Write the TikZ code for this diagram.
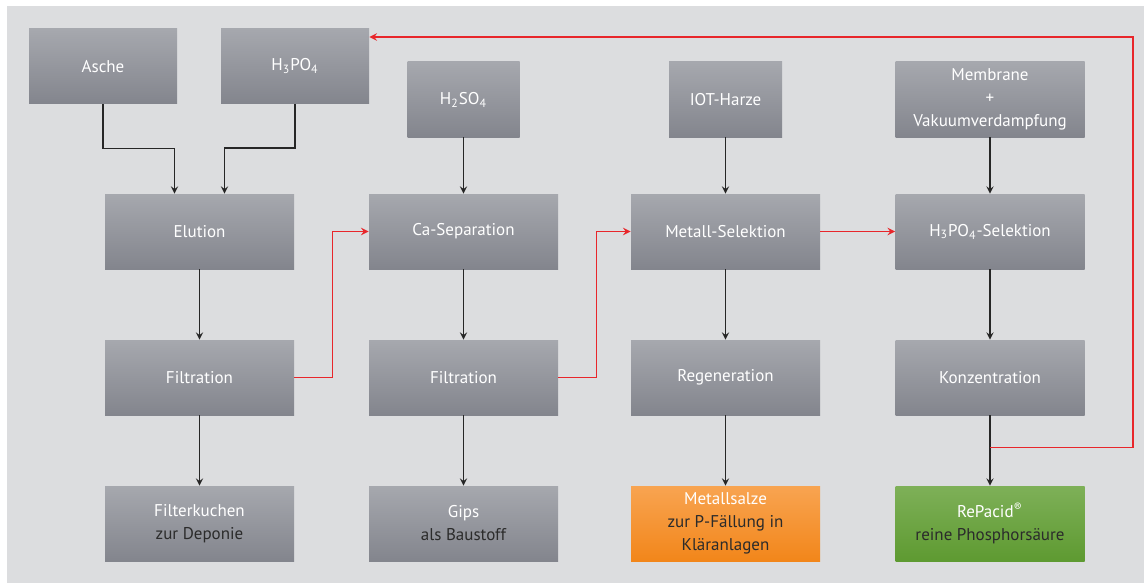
\documentclass[tikz,border=0pt]{standalone}
\usepackage{fontspec}
\setmainfont{PT Sans}
\usepackage{xcolor}
\usepackage{tikz}
\usetikzlibrary{calc}
\definecolor{bggray}{HTML}{DCDDDF}
\definecolor{boxtop}{HTML}{A6A8AE}
\definecolor{boxbot}{HTML}{83858D}
\definecolor{orangetop}{HTML}{F8A451}
\definecolor{orangebot}{HTML}{F2861A}
\definecolor{greentop}{HTML}{7EB058}
\definecolor{greenbot}{HTML}{5E9A31}
\definecolor{linered}{HTML}{E8262B}
\definecolor{darktext}{HTML}{2B2B2B}
\tikzset{
  box/.style={rectangle, minimum width=94.5pt, minimum height=37.5pt, inner sep=0pt, top color=boxtop, bottom color=boxbot, text=white, align=center, font=\fontsize{8.5}{11.5}\selectfont},
  orangebox/.style={box, top color=orangetop, bottom color=orangebot},
  greenbox/.style={box, top color=greentop, bottom color=greenbot},
  flow/.style={line width=0.6pt, black!85},
  back/.style={line width=0.7pt, linered},
}
\begin{document}
\begin{tikzpicture}[x=0.5pt, y=-0.5pt, node distance=73pt]
\fill[white] (0,0) rectangle (1144,583);
\fill[bggray] (7,6) rectangle (1144,583);
% Zugaben
\node [box, minimum width=74pt] at (103,66.5) (asche) {Asche};
\node [box, minimum width=74pt] at (295,66) (h3po4) {H\textsubscript{3}PO\textsubscript{4}};
% Prozessschritte
\node [box] at (199.5,231.5) (elution) {Elution};
\node [box, below of=elution] (filt1) {Filtration};
\node [box, below of=filt1] (kuchen) {Filterkuchen\\\textcolor{darktext}{zur Deponie}};
\node [box] at (463.5,231.5) (casep) {Ca-Separation};
\node [box, minimum width=56pt, above of=casep, node distance=66pt] (h2so4) {H\textsubscript{2}SO\textsubscript{4}};
\node [box, below of=casep] (filt2) {Filtration};
\node [box, below of=filt2] (gips) {Gips\\\textcolor{darktext}{als Baustoff}};
\node [box] at (725.5,231.5) (metall) {Metall-Selektion};
\node [box, minimum width=56.5pt, above of=metall, node distance=66pt] (iot) {IOT-Harze};
\node [box, below of=metall] (regen) {Regeneration};
\node [orangebox, below of=regen] (salze) {Metallsalze\\\textcolor{darktext}{zur P-Fällung in}\\\textcolor{darktext}{Kläranlagen}};
\node [box] at (990,231.5) (h3sel) {H\textsubscript{3}PO\textsubscript{4}-Selektion};
\node [box, above of=h3sel, node distance=66pt] (membran) {Membrane\\+\\Vakuumverdampfung};
\node [box, below of=h3sel] (konz) {Konzentration};
\node [greenbox, below of=konz] (repacid) {RePacid\textsuperscript{®}\\\textcolor{darktext}{reine Phosphorsäure}};
% schwarze Pfeile
\draw [flow] (asche.south)[-stealth] -- ++(0,44) -| ($(elution.north)+(-25,0)$);
\draw [flow] (h3po4.south)[-stealth] -- ++(0,44) -| ($(elution.north)+(25,0)$);
\draw [flow] (elution)[-stealth] -- (filt1);
\draw [flow] (filt1)[-stealth] -- (kuchen);
\draw [flow] (h2so4)[-stealth] -- (casep);
\draw [flow] (casep)[-stealth] -- (filt2);
\draw [flow] (filt2)[-stealth] -- (gips);
\draw [flow] (iot)[-stealth] -- (metall);
\draw [flow] (metall)[-stealth] -- (regen);
\draw [flow] (regen)[-stealth] -- (salze);
\draw [flow] (membran)[-stealth] -- (h3sel);
\draw [flow] (h3sel)[-stealth] -- (konz);
\draw [flow] (konz)[-stealth] -- (repacid);
% rote Pfeile
\draw [back] (filt1.east)[-stealth] -- ++(38,0) |- (casep.west);
\draw [back] (filt2.east)[-stealth] -- ++(38,0) |- (metall.west);
\draw [back] (metall)[-stealth] -- (h3sel);
\coordinate (split) at ($(konz.south)+(0,32)$);
\coordinate (corner) at (1133,37);
\draw [back] (split)[-stealth] -| (corner) -- (h3po4.east |- corner);
\end{tikzpicture}
\end{document}
